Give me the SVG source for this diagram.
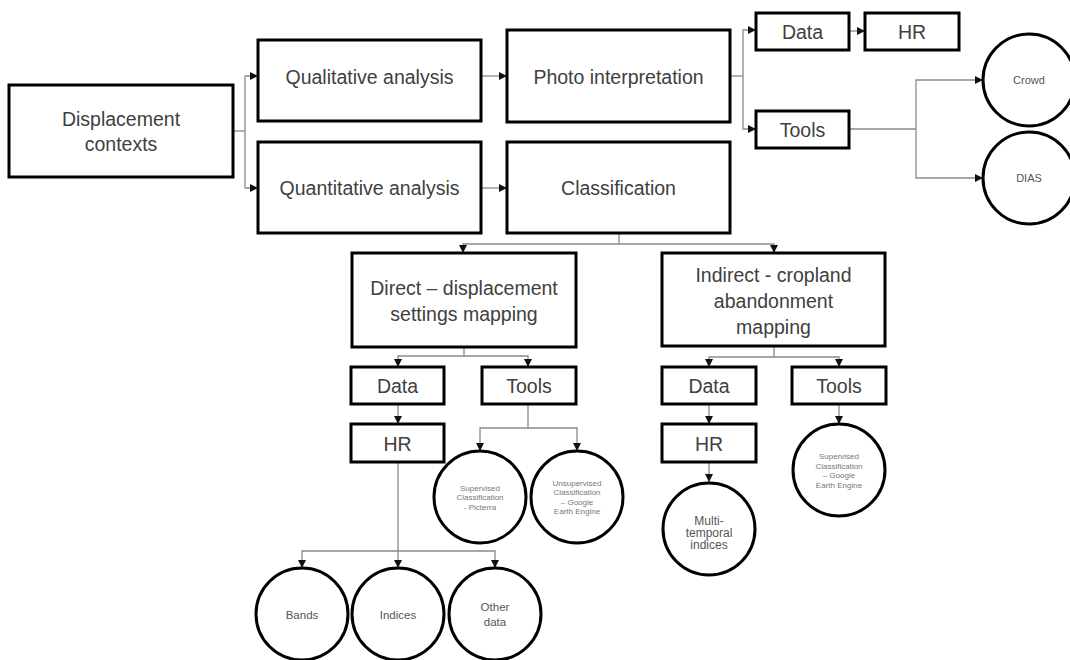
<svg xmlns="http://www.w3.org/2000/svg" width="1070" height="660" viewBox="0 0 1070 660">
<defs>
<marker id="ah" markerUnits="userSpaceOnUse" markerWidth="8" markerHeight="8" refX="8" refY="4" orient="auto">
<path d="M0,0 L8,4 L0,8 z" fill="#111"/>
</marker>
<style>
.box{fill:#fff;stroke:#000;stroke-width:3}
.cir{fill:#fff;stroke:#000;stroke-width:3}
.lbl{font-family:"Liberation Sans",Arial,sans-serif;font-size:19.5px;fill:#404040;text-anchor:middle;dominant-baseline:central}
.sm{font-family:"Liberation Sans",Arial,sans-serif;font-size:11.5px;fill:#555;text-anchor:middle;dominant-baseline:central}
.xs{font-family:"Liberation Sans",Arial,sans-serif;font-size:8px;fill:#777;text-anchor:middle;dominant-baseline:central}
.c{fill:none;stroke:#8a8a8a;stroke-width:1.3}
.a{marker-end:url(#ah)}
</style>
</defs>
<rect width="1070" height="660" fill="#fff"/>
<g id="connectors">
<path class="c" d="M233,131 H245"/>
<path class="c a" d="M245,131 V76 H258"/>
<path class="c a" d="M245,131 V188 H258"/>
<path class="c a" d="M481,76 H507"/>
<path class="c a" d="M481,188 H507"/>
<path class="c" d="M730,76 H743"/>
<path class="c a" d="M743,76 V30 H756"/>
<path class="c a" d="M743,76 V129 H756"/>
<path class="c a" d="M849,31 H865"/>
<path class="c" d="M849,129 H916"/>
<path class="c a" d="M916,129 V80 H983"/>
<path class="c a" d="M916,129 V178 H983"/>
<path class="c a" d="M619,233 V244 H463 V253"/>
<path class="c a" d="M619,244 H774 V253"/>
<path class="c a" d="M464,347 V356 H398 V367"/>
<path class="c a" d="M464,356 H528 V367"/>
<path class="c a" d="M398,404 V424"/>
<path class="c a" d="M528,404 V428 H480 V451"/>
<path class="c a" d="M528,428 H577 V451"/>
<path class="c a" d="M398,462 V568"/>
<path class="c a" d="M398,551 H302 V568"/>
<path class="c a" d="M398,551 H495 V568"/>
<path class="c a" d="M774,346 V357 H709 V367"/>
<path class="c a" d="M774,357 H839 V367"/>
<path class="c a" d="M709,404 V424"/>
<path class="c a" d="M839,404 V424"/>
<path class="c a" d="M709,462 V482"/>
</g>
<g id="displacement-contexts"><rect class="box" x="9" y="85" width="224" height="92"/><text class="lbl" x="121" y="119">Displacement</text><text class="lbl" x="121" y="144">contexts</text></g>
<g id="qualitative-analysis"><rect class="box" x="258" y="40" width="223" height="81"/><text class="lbl" x="369.5" y="77">Qualitative analysis</text></g>
<g id="quantitative-analysis"><rect class="box" x="258" y="142" width="223" height="91"/><text class="lbl" x="369.5" y="188">Quantitative analysis</text></g>
<g id="photo-interpretation"><rect class="box" x="507" y="30" width="223" height="92"/><text class="lbl" x="618.5" y="77">Photo interpretation</text></g>
<g id="classification"><rect class="box" x="507" y="142" width="223" height="91"/><text class="lbl" x="618.5" y="188">Classification</text></g>
<g id="data-top"><rect class="box" x="756" y="13" width="93" height="37"/><text class="lbl" x="802.5" y="32">Data</text></g>
<g id="hr-top"><rect class="box" x="865" y="13" width="94" height="37"/><text class="lbl" x="912" y="32">HR</text></g>
<g id="tools-top"><rect class="box" x="756" y="111" width="93" height="37"/><text class="lbl" x="802.5" y="129.5">Tools</text></g>
<g id="crowd"><circle class="cir" cx="1029" cy="80" r="46"/><text class="sm" x="1029" y="80" style="font-size:11px">Crowd</text></g>
<g id="dias"><circle class="cir" cx="1029" cy="178" r="46"/><text class="sm" x="1029" y="178" style="font-size:11px">DIAS</text></g>
<g id="direct"><rect class="box" x="352" y="253" width="224" height="94"/><text class="lbl" x="464" y="288">Direct – displacement</text><text class="lbl" x="464" y="314">settings mapping</text></g>
<g id="indirect"><rect class="box" x="662" y="253" width="223" height="93"/><text class="lbl" x="773.5" y="275">Indirect - cropland</text><text class="lbl" x="773.5" y="301">abandonment</text><text class="lbl" x="773.5" y="327">mapping</text></g>
<g id="data-direct"><rect class="box" x="351" y="367" width="93" height="37"/><text class="lbl" x="397.5" y="386">Data</text></g>
<g id="tools-direct"><rect class="box" x="482" y="367" width="94" height="37"/><text class="lbl" x="529" y="386">Tools</text></g>
<g id="hr-direct"><rect class="box" x="351" y="424" width="93" height="38"/><text class="lbl" x="397.5" y="444">HR</text></g>
<g id="supervised-picterra"><circle class="cir" cx="480" cy="497" r="46"/><text class="xs" x="480" y="488">Supervised</text><text class="xs" x="480" y="497.5">Classification</text><text class="xs" x="480" y="507">- Picterra</text></g>
<g id="unsupervised-gee"><circle class="cir" cx="577" cy="497" r="46"/><text class="xs" x="577" y="483">Unsupervised</text><text class="xs" x="577" y="492.5">Classification</text><text class="xs" x="577" y="502">– Google</text><text class="xs" x="577" y="511.5">Earth Engine</text></g>
<g id="bands"><circle class="cir" cx="302" cy="614" r="46"/><text class="sm" x="302" y="615">Bands</text></g>
<g id="indices"><circle class="cir" cx="398" cy="614" r="46"/><text class="sm" x="398" y="615">Indices</text></g>
<g id="other-data"><circle class="cir" cx="495" cy="614" r="46"/><text class="sm" x="495" y="607">Other</text><text class="sm" x="495" y="622">data</text></g>
<g id="data-indirect"><rect class="box" x="662" y="367" width="94" height="37"/><text class="lbl" x="709" y="386">Data</text></g>
<g id="tools-indirect"><rect class="box" x="792" y="367" width="94" height="37"/><text class="lbl" x="839" y="386">Tools</text></g>
<g id="hr-indirect"><rect class="box" x="662" y="424" width="94" height="38"/><text class="lbl" x="709" y="444">HR</text></g>
<g id="multi-temporal"><circle class="cir" cx="709" cy="529" r="46"/><text class="sm" x="709" y="521" style="font-size:12px">Multi-</text><text class="sm" x="709" y="533" style="font-size:12px">temporal</text><text class="sm" x="709" y="545" style="font-size:12px">indices</text></g>
<g id="supervised-gee"><circle class="cir" cx="839" cy="470" r="46"/><text class="xs" x="839" y="456.5">Supervised</text><text class="xs" x="839" y="466">Classification</text><text class="xs" x="839" y="475.5">– Google</text><text class="xs" x="839" y="485">Earth Engine</text></g>
</svg>
